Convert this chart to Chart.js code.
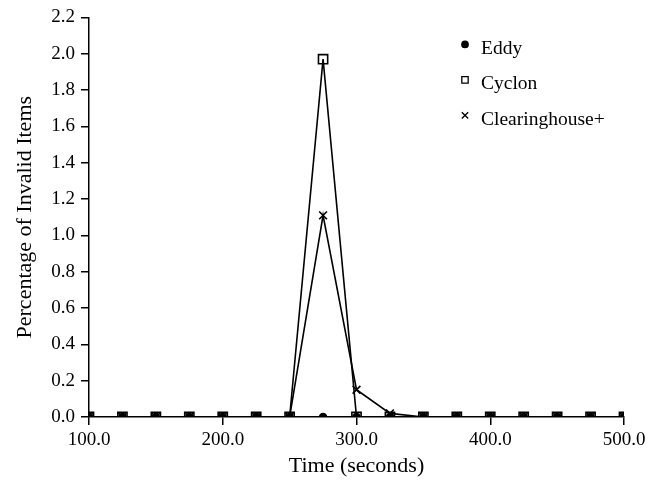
<!DOCTYPE html>
<html>
<head>
<meta charset="utf-8">
<script src="https://cdn.jsdelivr.net/npm/chart.js@4"></script>
<style>
  html, body { margin: 0; padding: 0; background: #fff; }
  #wrap { width: 659px; height: 480px; }
</style>
</head>
<body>
<div id="wrap"><canvas id="myChart" width="659" height="480"></canvas></div>
<script>
let times = [100, 125, 150, 175, 200, 225, 250, 275, 300, 325, 350, 375, 400, 425, 450, 475, 500];
let eddy = [0, 0, 0, 0, 0, 0, 0, 0, 0, 0, 0, 0, 0, 0, 0, 0, 0];
let cyclon = [0, 0, 0, 0, 0, 0, 0, 1.97, 0, 0, 0, 0, 0, 0, 0, 0, 0];
let clearing = [0, 0, 0, 0, 0, 0, 0, 1.11, 0.15, 0.02, 0, 0, 0, 0, 0, 0, 0];
let seriesNames = ['Eddy', 'Cyclon', 'Clearinghouse+'];
let yTicks = [0, 0.2, 0.4, 0.6, 0.8, 1.0, 1.2, 1.4, 1.6, 1.8, 2.0, 2.2];

function pts(vals) {
    return vals.map((v, i) => ({ x: times[i], y: v }));
}

Chart.defaults.font.family = '"Liberation Serif", "DejaVu Serif", serif';
Chart.defaults.color = '#000';

// legend drawn inside the plot, top right
let innerLegend = {
    id: 'innerLegend',
    afterDraw(chart) {
        let ctx = chart.ctx;
        let area = chart.chartArea;
        let x0 = area.left + 375;
        let y0 = area.top + 30;
        ctx.save();
        chart.data.datasets.forEach((ds, i) => {
            let y = y0 + i * 35.5;
            ctx.fillStyle = ds.pointStyle == 'rect' ? '#fff' : '#000';
            ctx.strokeStyle = '#000';
            ctx.lineWidth = 1.3;
            Chart.helpers.drawPoint(ctx, {
                pointStyle: ds.pointStyle,
                radius: ds.legendRadius,
                borderWidth: 1.3
            }, x0 + 1, y - 3);
            ctx.fillStyle = '#000';
            ctx.font = '19.5px "Liberation Serif", serif';
            ctx.textBaseline = 'middle';
            ctx.textAlign = 'left';
            ctx.fillText(ds.label, x0 + 17, y + 1);
        });
        ctx.restore();
    }
};

let ctx1 = document.getElementById('myChart').getContext('2d');

let chart1 = new Chart(ctx1, {
    type: 'line',
    data: {
        datasets: [
            {
                label: seriesNames[0],
                data: pts(eddy),
                borderColor: '#000',
                backgroundColor: '#000',
                borderWidth: 1.6,
                pointStyle: 'circle',
                pointRadius: 3.5,
                pointBackgroundColor: '#000',
                pointBorderColor: '#000',
                legendRadius: 3.2,
                order: 1
            },
            {
                label: seriesNames[1],
                data: pts(cyclon),
                borderColor: '#000',
                backgroundColor: '#fff',
                borderWidth: 1.6,
                pointStyle: 'rect',
                pointRadius: 6.5,
                pointBorderWidth: 1.6,
                pointBackgroundColor: 'rgba(255,255,255,0)',
                pointBorderColor: '#000',
                legendRadius: 4.5,
                order: 2
            },
            {
                label: seriesNames[2],
                data: pts(clearing),
                borderColor: '#000',
                backgroundColor: '#000',
                borderWidth: 1.6,
                pointStyle: 'crossRot',
                pointRadius: 5.5,
                pointBorderWidth: 1.6,
                pointBorderColor: '#000',
                legendRadius: 4.5,
                order: 3
            }
        ]
    },
    options: {
        responsive: false,
        animation: false,
        layout: {
            padding: { top: 17, right: 35, left: 0, bottom: 0 }
        },
        plugins: {
            legend: { display: false },
            tooltip: { enabled: false }
        },
        scales: {
            x: {
                type: 'linear',
                min: 100,
                max: 500,
                border: { display: true, color: '#000', width: 1.5 },
                grid: { display: true, drawOnChartArea: false, drawTicks: true, tickLength: 8, color: '#000', lineWidth: 1.5 },
                ticks: {
                    stepSize: 100,
                    padding: 4,
                    font: { size: 19 },
                    callback: v => v.toFixed(1)
                },
                title: {
                    display: true,
                    text: 'Time (seconds)',
                    font: { size: 22 },
                    padding: { top: 0, bottom: 1 }
                },
                afterFit: s => { s.height = 63; }
            },
            y: {
                min: 0,
                max: 2.2,
                border: { display: true, color: '#000', width: 1.5 },
                grid: { display: true, drawOnChartArea: false, drawTicks: true, tickLength: 8, color: '#000', lineWidth: 1.5 },
                afterBuildTicks: s => { s.ticks = yTicks.map(v => ({ value: v })); },
                ticks: {
                    padding: 6,
                    font: { size: 19 },
                    callback: v => v.toFixed(1)
                },
                title: {
                    display: true,
                    text: 'Percentage of Invalid Items',
                    font: { size: 22 },
                    padding: { top: 12, bottom: 6 }
                },
                afterFit: s => { s.width = 89; }
            }
        }
    },
    plugins: [innerLegend]
});
</script>
</body>
</html>
